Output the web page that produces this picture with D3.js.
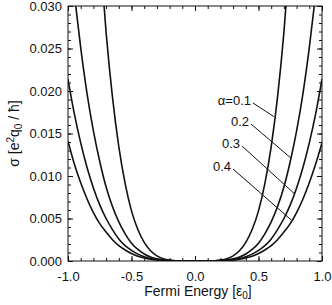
<!DOCTYPE html>
<html>
<head>
<meta charset="utf-8">
<script src="https://cdn.jsdelivr.net/npm/d3@7"></script>
<style>
  body { margin: 0; background: #fff; }
  text { font-family: "Liberation Sans", Arial, sans-serif; fill: #111; }
</style>
</head>
<body>
<div id="chart"></div>
<script>
// Fermi energy grid [eps0]
const energy = [-1.0, -0.95, -0.9, -0.85, -0.8, -0.75, -0.7, -0.65, -0.6, -0.55, -0.5,
  -0.45, -0.4, -0.35, -0.3, -0.25, -0.2, -0.15, -0.1, -0.05, 0.0,
  0.05, 0.1, 0.15, 0.2, 0.25, 0.3, 0.35, 0.4, 0.45, 0.5,
  0.55, 0.6, 0.65, 0.7, 0.75, 0.8, 0.85, 0.9, 0.95, 1.0];

// conductivity [e^2 q0 / hbar], null where the curve is off the top of the frame
const sigmaA01 = [null, null, null, null, null, 0.0367, 0.0269, 0.0193, 0.01345, 0.0091, 0.0059,
  0.0037, 0.0022, 0.0012, 0.0006, 0.00026, 0.0001, 0.00003, 0, 0, 0,
  0, 0, 0.00003, 0.0001, 0.00026, 0.0006, 0.0012, 0.0022, 0.0037, 0.0059,
  0.0091, 0.01345, 0.0193, 0.0269, 0.0367, null, null, null, null, null];
const sigmaA02 = [null, 0.0314, 0.0251, 0.0197, 0.0153, 0.0117, 0.0087, 0.0064, 0.0046, 0.0032, 0.0021,
  0.00136, 0.00083, 0.00047, 0.00025, 0.00012, 0.00005, 0.00001, 0, 0, 0,
  0, 0, 0.00001, 0.00005, 0.00012, 0.00025, 0.00047, 0.00083, 0.00136, 0.0021,
  0.0032, 0.0046, 0.0064, 0.0087, 0.0117, 0.0153, 0.0197, 0.0251, 0.0314, null];
const sigmaA03 = [0.0214, 0.0173, 0.0139, 0.0110, 0.0086, 0.0066, 0.0050, 0.0037, 0.0026, 0.0018, 0.00125,
  0.00081, 0.0005, 0.00029, 0.00015, 0.00007, 0.00003, 0.00001, 0, 0, 0,
  0, 0, 0.00001, 0.00003, 0.00007, 0.00015, 0.00029, 0.0005, 0.00081, 0.00125,
  0.0018, 0.0026, 0.0037, 0.0050, 0.0066, 0.0086, 0.0110, 0.0139, 0.0173, 0.0214];
const sigmaA04 = [0.0141, 0.0114, 0.0092, 0.0073, 0.0057, 0.0044, 0.0034, 0.0025, 0.0018, 0.0013, 0.00088,
  0.00057, 0.00036, 0.00021, 0.00011, 0.00005, 0.00002, 0.00001, 0, 0, 0,
  0, 0, 0.00001, 0.00002, 0.00005, 0.00011, 0.00021, 0.00036, 0.00057, 0.00088,
  0.0013, 0.0018, 0.0025, 0.0034, 0.0044, 0.0057, 0.0073, 0.0092, 0.0114, 0.0139];

const seriesLabels = ["\u03b1=0.1", "0.2", "0.3", "0.4"];
// where each label's leader line touches its curve: [energy, sigma]
const leaderEnds = [[0.62, 0.0170], [0.756, 0.0121], [0.784, 0.0079], [0.76, 0.0048]];

const xTickValues = [-1.0, -0.5, 0.0, 0.5, 1.0];
const xTickLabels = ["-1.0", "-0.5", "0.0", "0.5", "1.0"];
const yTickValues = [0.000, 0.005, 0.010, 0.015, 0.020, 0.025, 0.030];
const yTickLabels = ["0.000", "0.005", "0.010", "0.015", "0.020", "0.025", "0.030"];

const W = 332, H = 305;
const margin = { top: 6, right: 10, bottom: 44, left: 68 };
const width = W - margin.left - margin.right;
const height = H - margin.top - margin.bottom;

const svg = d3.select("#chart").append("svg")
  .attr("width", W)
  .attr("height", H);

const g = svg.append("g")
  .attr("transform", "translate(" + margin.left + "," + margin.top + ")");

const x = d3.scaleLinear().domain([-1, 1]).range([0, width]);
const y = d3.scaleLinear().domain([0, 0.03]).range([height, 0]);

const xMinor = d3.range(-10, 11).map(d => d / 10);
const yMinor = d3.range(0, 31).map(d => d / 1000);

// inward ticks on all four sides
function styleAxis(sel) {
  sel.select(".domain").remove();
  sel.selectAll(".tick line").attr("stroke", "#111");
  sel.selectAll("text").style("font-size", "13px").attr("fill", "#111");
}

g.append("g").attr("transform", "translate(0," + height + ")")
  .call(d3.axisBottom(x).tickValues(xMinor).tickSize(-3).tickFormat(""))
  .call(styleAxis);
g.append("g").attr("transform", "translate(0," + height + ")")
  .call(d3.axisBottom(x).tickValues(xTickValues).tickSize(-5).tickPadding(11)
    .tickFormat((d, i) => xTickLabels[i]))
  .call(styleAxis);
g.append("g")
  .call(d3.axisTop(x).tickValues(xMinor).tickSize(-3).tickFormat(""))
  .call(styleAxis);
g.append("g")
  .call(d3.axisTop(x).tickValues(xTickValues).tickSize(-5).tickFormat(""))
  .call(styleAxis);

g.append("g")
  .call(d3.axisLeft(y).tickValues(yMinor).tickSize(-3).tickFormat(""))
  .call(styleAxis);
g.append("g")
  .call(d3.axisLeft(y).tickValues(yTickValues).tickSize(-5).tickPadding(6)
    .tickFormat((d, i) => yTickLabels[i]))
  .call(styleAxis);
g.append("g").attr("transform", "translate(" + width + ",0)")
  .call(d3.axisRight(y).tickValues(yMinor).tickSize(-3).tickFormat(""))
  .call(styleAxis);
g.append("g").attr("transform", "translate(" + width + ",0)")
  .call(d3.axisRight(y).tickValues(yTickValues).tickSize(-5).tickFormat(""))
  .call(styleAxis);

// curves
svg.append("defs").append("clipPath").attr("id", "plot-clip")
  .append("rect").attr("width", width).attr("height", height);

const line = d3.line()
  .defined(d => d[1] !== null)
  .x(d => x(d[0]))
  .y(d => y(d[1]))
  .curve(d3.curveMonotoneX);

const series = [sigmaA01, sigmaA02, sigmaA03, sigmaA04];
g.append("g").attr("clip-path", "url(#plot-clip)")
  .selectAll("path")
  .data(series)
  .enter()
  .append("path")
  .attr("d", s => line(energy.map((e, i) => [e, s[i]])))
  .attr("fill", "none")
  .attr("stroke", "#111")
  .attr("stroke-width", 1.6);

// frame
g.append("rect")
  .attr("width", width)
  .attr("height", height)
  .attr("fill", "none")
  .attr("stroke", "#111")
  .attr("stroke-width", 1);

// labels with leader lines (label anchor in pixels of the plot area)
const labelAnchors = [[183, 99], [181, 120], [172, 142], [163, 165]];
seriesLabels.forEach((txt, i) => {
  const [lx, ly] = labelAnchors[i];
  g.append("text")
    .attr("x", lx)
    .attr("y", ly)
    .attr("text-anchor", "end")
    .style("font-size", "13px")
    .text(txt);
  g.append("line")
    .attr("x1", lx + 2)
    .attr("y1", ly - 2)
    .attr("x2", x(leaderEnds[i][0]))
    .attr("y2", y(leaderEnds[i][1]))
    .attr("stroke", "#111")
    .attr("stroke-width", 1);
});

// axis titles
const xt = svg.append("text")
  .attr("x", margin.left + width / 2 + 3)
  .attr("y", 296)
  .attr("text-anchor", "middle")
  .style("font-size", "14px");
xt.append("tspan").text("Fermi Energy [\u03b5");
xt.append("tspan").attr("dy", 3).style("font-size", "10px").text("0");
xt.append("tspan").attr("dy", -3).text("]");

const yt = svg.append("text")
  .attr("transform", "translate(19," + (margin.top + height / 2) + ") rotate(-90)")
  .attr("text-anchor", "middle")
  .style("font-size", "14px");
yt.append("tspan").text("\u03c3 [e");
yt.append("tspan").attr("dy", -5).style("font-size", "10px").text("2");
yt.append("tspan").attr("dy", 5).text("q");
yt.append("tspan").attr("dy", 3).style("font-size", "10px").text("0");
yt.append("tspan").attr("dy", -3).text(" / \u0127]");
</script>
</body>
</html>
